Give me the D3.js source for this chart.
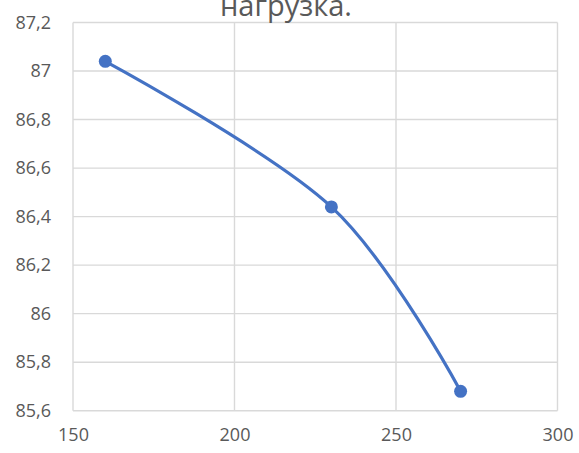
<!DOCTYPE html>
<html lang="ru">
<head>
  <meta charset="utf-8">
  <title>нагрузка</title>
  <script src="https://d3js.org/d3.v7.min.js"></script>
  <style>
    body { margin: 0; background: #fff; }
    text { font-family: 'Open Sans', sans-serif; fill: #595959; }
  </style>
</head>
<body>
<script>
// data
var xValues = [160, 230, 270];
var yValues = [87.04, 86.44, 85.68];
var xTicks = [150, 200, 250, 300];
var yTicks = [85.6, 85.8, 86, 86.2, 86.4, 86.6, 86.8, 87, 87.2];
var titleText = 'нагрузка.';

var w = 579, h = 453;
// plot box (note: "top" is taken by window.top)
var plotL = 73, plotR = 557.5, plotT = 22.5, plotB = 410.7;

var svg = d3.select('body').append('svg')
  .attr('width', w)
  .attr('height', h);

var x = d3.scaleLinear().domain([150, 300]).range([plotL, plotR]);
var y = d3.scaleLinear().domain([85.6, 87.2]).range([plotB, plotT]);

var fmt = function (d) { return String(+d.toFixed(1)).replace('.', ','); };

// gridlines
svg.append('g').selectAll('line')
  .data(xTicks).enter().append('line')
  .attr('x1', function (d) { return x(d); })
  .attr('x2', function (d) { return x(d); })
  .attr('y1', plotT).attr('y2', plotB)
  .attr('stroke', '#d9d9d9').attr('stroke-width', 1.4);

svg.append('g').selectAll('line')
  .data(yTicks).enter().append('line')
  .attr('x1', plotL).attr('x2', plotR)
  .attr('y1', function (d) { return y(d); })
  .attr('y2', function (d) { return y(d); })
  .attr('stroke', '#d9d9d9').attr('stroke-width', 1.4);

// axes labels via d3 axes, lines hidden
var yAxis = svg.append('g')
  .attr('transform', 'translate(' + plotL + ',0)')
  .call(d3.axisLeft(y).tickValues(yTicks).tickFormat(fmt).tickSize(0).tickPadding(22));
yAxis.select('.domain').remove();
yAxis.selectAll('text')
  .style('font-family', "'Open Sans', sans-serif")
  .style('font-size', '18px')
  .attr('fill', '#595959');

var xAxis = svg.append('g')
  .attr('transform', 'translate(0,' + plotB + ')')
  .call(d3.axisBottom(x).tickValues(xTicks).tickFormat(d3.format('d')).tickSize(0).tickPadding(18));
xAxis.select('.domain').remove();
xAxis.selectAll('text')
  .style('font-family', "'Open Sans', sans-serif")
  .style('font-size', '18px')
  .attr('fill', '#595959');

// title (partly cut at top, as in the original)
svg.append('text')
  .attr('x', 286)
  .attr('y', 16)
  .attr('text-anchor', 'middle')
  .style('font-size', '29px')
  .text(titleText);

var pts = xValues.map(function (d, i) { return [d, yValues[i]]; });

var line = d3.line()
  .x(function (d) { return x(d[0]); })
  .y(function (d) { return y(d[1]); })
  .curve(d3.curveCardinal.tension(0));

svg.append('path')
  .datum(pts)
  .attr('d', line)
  .attr('fill', 'none')
  .attr('stroke', '#4472c4')
  .attr('stroke-width', 3.2);

svg.selectAll('circle')
  .data(pts).enter().append('circle')
  .attr('cx', function (d) { return x(d[0]); })
  .attr('cy', function (d) { return y(d[1]); })
  .attr('r', 6.5)
  .attr('fill', '#4472c4');
</script>
</body>
</html>
